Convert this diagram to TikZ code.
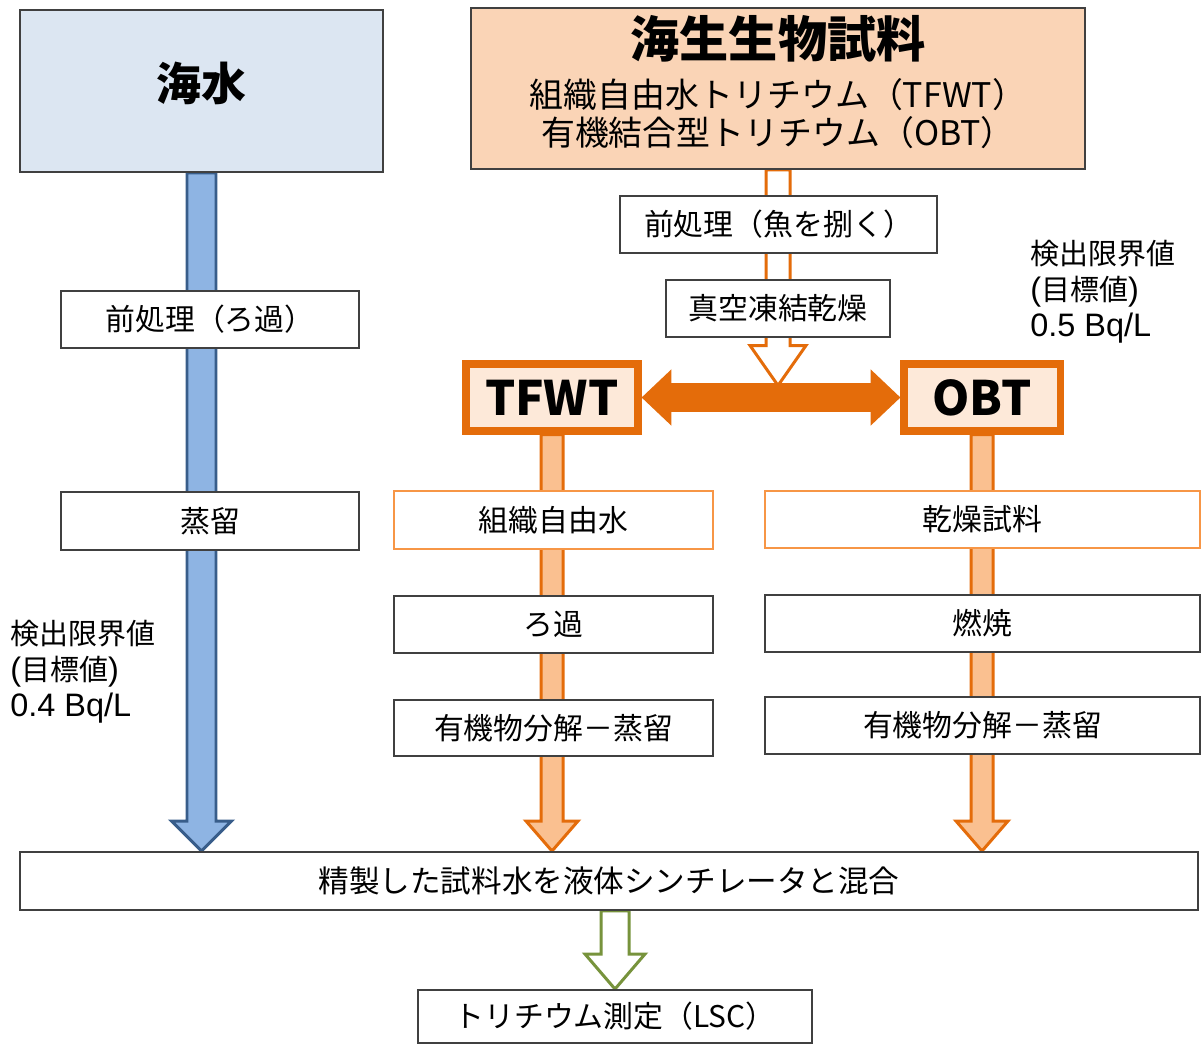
\documentclass[tikz,border=0pt]{standalone}
\usepackage{fontspec}
\setmainfont{Noto Sans CJK JP}
\newfontfamily\lat{Liberation Sans}[Scale=1.12]
\usetikzlibrary{fit,calc,arrows.meta,backgrounds}
\definecolor{boxgray}{HTML}{404040}
\definecolor{seablue}{HTML}{DCE6F2}
\definecolor{blueA}{HTML}{8EB4E3}
\definecolor{blueD}{HTML}{385D8A}
\definecolor{peach}{HTML}{FAD4B6}
\definecolor{peachA}{HTML}{FAC090}
\definecolor{peachL}{HTML}{FDE9D9}
\definecolor{orangeD}{HTML}{E46C0A}
\definecolor{orangeL}{HTML}{F79646}
\definecolor{greenD}{HTML}{77933C}
\newcommand{\blkarrow}[6]{%
  \draw[#1] ($(#2)+(-#4,0)$) -- ($(#2 |- #3)+(-#4,-#6)$) -- ($(#2 |- #3)+(-#5,-#6)$)
    -- (#2 |- #3) -- ($(#2 |- #3)+(#5,-#6)$) -- ($(#2 |- #3)+(#4,-#6)$) -- ($(#2)+(#4,0)$) -- cycle;
}

\begin{document}
\begin{tikzpicture}[x=0.02cm, y=-0.02cm,
    box/.style={draw=boxgray, line width=1.1pt, fill=white, inner sep=0pt},
    obox/.style={box, draw=orangeL},
    txt/.style={label={[inner sep=0pt, font=\fontsize{17}{20}\selectfont]center:{#1}}},
    bigbox/.style={draw=boxgray, line width=1.1pt, inner sep=0pt},
    tbox/.style={draw=orangeD, line width=4pt, fill=peachL, inner sep=0pt},
    ttxt/.style={label={[inner sep=0pt, font=\fontsize{27}{30}\selectfont\bfseries]center:{#1}}},
    note/.style={anchor=north west, align=left, inner sep=0pt, font=\fontsize{16.5}{20.5}\selectfont},
    barrow/.style={fill=blueA, draw=blueD, line width=1.7pt},
    oarrow/.style={fill=peachA, draw=orangeD, line width=1.7pt},
    harrow/.style={fill=white, draw=orangeD, line width=1.7pt},
    garrow/.style={fill=white, draw=greenD, line width=1.7pt},
    dbl/.style={draw=orangeD, line width=16pt, {Triangle[length=17pt,width=31pt]}-{Triangle[length=17pt,width=31pt]}}]
  \useasboundingbox (0,0) rectangle (1203,1045);

  \node[bigbox, fill=seablue, fit={(20,10) (383,172)},
    label={[inner sep=0pt, yshift=4.5pt, font=\fontsize{25.6}{28}\selectfont\bfseries]center:海水}] (sw) {};
  \node[box, fit={(61,291) (359,348)}, txt={前処理（ろ過）}] (pre) {};
  \node[box, fit={(61,492) (359,550)}, txt={蒸留}] (dist) {};

  \node[bigbox, fill=peach, fit={(471,8) (1085,169)},
    label={[inner sep=0pt, yshift=3.5pt, align=center, font=\fontsize{19.3}{21.6}\selectfont]center:{{\fontsize{28}{30}\selectfont\bfseries 海生生物試料}\\[7pt]組織自由水トリチウム（TFWT）\\有機結合型トリチウム（OBT）}}] (bio) {};
  \node[box, fit={(620,196) (937,253)}, txt={前処理（魚を捌く）}] (fish) {};
  \node[box, fit={(666,280) (890,337)}, txt={真空凍結乾燥}] (fdry) {};

  \node[tbox, fit={(466,364) (638,431)}, ttxt={TFWT}] (tfwt) {};
  \node[tbox, fit={(904,364) (1060,431)}, ttxt={OBT}] (obt) {};

  \node[obox, fit={(394,491) (713,549)}, txt={組織自由水}] (tfw) {};
  \node[box, fit={(394,596) (713,653)}, txt={ろ過}] (filt) {};
  \node[box, fit={(394,700) (713,756)}, txt={有機物分解－蒸留}] (decl) {};
  \node[obox, fit={(765,491) (1200,548)}, txt={乾燥試料}] (dry) {};
  \node[box, fit={(765,595) (1200,652)}, txt={燃焼}] (burn) {};
  \node[box, fit={(765,697) (1200,754)}, txt={有機物分解－蒸留}] (decr) {};

  \node[box, fit={(20,852) (1198,910)},
    label={[inner sep=0pt, font=\fontsize{17.4}{20}\selectfont]center:精製した試料水を液体シンチレータと混合}] (mix) {};
  \node[box, fit={(418,990) (812,1043)}, txt={トリチウム測定（LSC）}] (lsc) {};

  \node[note] (limw) at (10,620) {検出限界値\\{\lat(}目標値{\lat)}\\{\lat 0.4 Bq/L}};
  \node[note] (limb) at (1030,240) {検出限界値\\{\lat(}目標値{\lat)}\\{\lat 0.5 Bq/L}};

  \coordinate (tip) at ($(bio.south |- tfwt.east)+(0,-12)$);
  \coordinate (g) at (lsc.north |- mix.south);
  \begin{pgfonlayer}{background}
    \blkarrow{barrow}{sw.south}{mix.north}{14.5}{30}{30}
    \blkarrow{harrow}{bio.south}{tip}{12}{28}{40}
    \blkarrow{oarrow}{tfwt.south}{mix.north}{11}{26}{30}
    \blkarrow{oarrow}{obt.south}{mix.north}{11}{26}{30}
    \blkarrow{garrow}{g}{lsc.north}{14}{30}{35}
  \end{pgfonlayer}
  \draw[dbl] (tfwt.east) -- (obt.west);
\end{tikzpicture}
\end{document}
